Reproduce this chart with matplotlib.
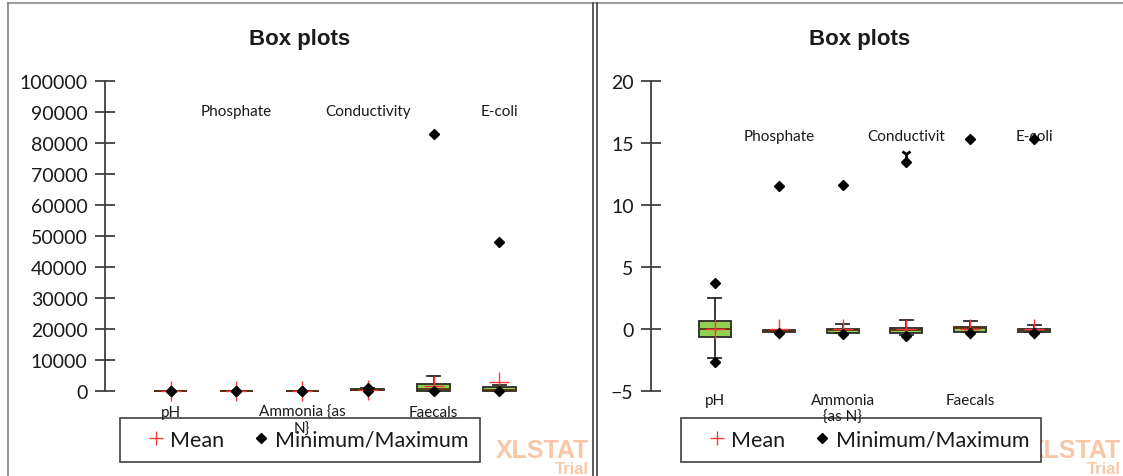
import matplotlib
matplotlib.use("Agg")
import matplotlib.pyplot as plt
from matplotlib.lines import Line2D
from matplotlib.patches import Rectangle
import matplotlib.transforms as mtransforms

plt.rcParams['font.family'] = ['Lato', 'DejaVu Sans']

# ---- data -------------------------------------------------------------
variables = ["pH", "Phosphate", "Ammonia {as N}", "Conductivity", "Faecals", "E-coli"]
labels_left = ["pH", "Phosphate", "Ammonia {as\nN}", "Conductivity", "Faecals", "E-coli"]
labels_right = ["pH", "Phosphate", "Ammonia\n{as N}", "Conductivit", "Faecals", "E-coli"]

# raw values (left chart)
raw_min = [6.1, 0.05, 0.02, 150, 0, 0]
raw_whislo = [6.3, 0.1, 0.05, 200, 0, 0]
raw_q1 = [7.0, 0.2, 0.1, 300, 100, 100]
raw_med = [7.4, 0.3, 0.2, 400, 700, 400]
raw_q3 = [7.8, 0.5, 0.4, 600, 2260, 1200]
raw_whishi = [8.6, 0.9, 0.8, 900, 4900, 2000]
raw_max = [8.9, 10.0, 8.0, 1100, 83000, 48000]
raw_mean = [7.4, 0.4, 0.3, 450, 1700, 2900]

# standardized values (right chart)
std_min = [-2.63, -0.30, -0.40, -0.54, -0.30, -0.30]
std_whislo = [-2.36, -0.28, -0.35, -0.45, -0.28, -0.28]
std_q1 = [-0.67, -0.25, -0.30, -0.30, -0.27, -0.27]
std_med = [0.0, -0.15, -0.05, -0.05, 0.05, -0.10]
std_q3 = [0.67, -0.10, 0.0, 0.08, 0.13, 0.0]
std_whishi = [2.47, -0.05, 0.40, 0.72, 0.67, 0.35]
std_max = [3.69, 11.5, 11.6, 13.5, 15.3, 15.3]
std_mean = [0.0, 0.0, 0.0, 0.0, 0.0, 0.0]
cond_extra = 14.1   # extra mark above conductivity max

left_ticks = list(range(0, 100001, 10000))
right_ticks = [-5, 0, 5, 10, 15, 20]

W, H = 1123, 477
fig = plt.figure(figsize=(W / 100, H / 100), dpi=100)

# panel frames
fig.add_artist(Line2D([8 / W, 1], [1 - 4 / H, 1 - 4 / H], color="#a0a0a0", lw=1.5))
fig.add_artist(Line2D([8 / W, 8 / W], [0, 1 - 4 / H], color="#808080", lw=1.2))
fig.add_artist(Line2D([593 / W, 593 / W], [0, 1 - 4 / H], color="#404040", lw=1.2))
fig.add_artist(Line2D([597 / W, 597 / W], [0, 1 - 4 / H], color="#404040", lw=1.2))

# watermark (drawn first so the legend boxes sit over it)
for rx in (589, 1121):
    fig.text(rx / W, 1 - 451 / H, "XLSTAT", ha="right", va="center", fontsize=18,
             fontweight="bold", family="Liberation Sans", color="#f8c7a8", zorder=0)
    fig.text(rx / W, 1 - 470 / H, "Trial", ha="right", va="center", fontsize=12,
             fontweight="bold", family="Liberation Sans", color="#f8c7a8", zorder=0)


def draw_panel(ax, mins, wlo, q1, med, q3, whi, maxs, means, labels, ylim, ticks,
               top_y, bot_y):
    pos = list(range(1, len(variables) + 1))
    stats = []
    for i in range(len(variables)):
        stats.append(dict(med=med[i], q1=q1[i], q3=q3[i], whislo=wlo[i],
                          whishi=whi[i], mean=means[i], fliers=[]))
    ax.bxp(stats, positions=pos, widths=0.5, capwidths=0.2, patch_artist=True,
           showmeans=True, showfliers=False,
           boxprops=dict(facecolor="#92d050", edgecolor="#2a2a2a", lw=1.3),
           whiskerprops=dict(color="#2a2a2a", lw=1.3),
           capprops=dict(color="#2a2a2a", lw=1.3),
           medianprops=dict(color="#5a3010", lw=1.3),
           meanprops=dict(marker="+", markeredgecolor="#ff3838", markersize=15,
                          markeredgewidth=1.0))
    ax.plot(pos, mins, ls="none", marker="D", color="black", markersize=5.5, clip_on=False, zorder=5)
    ax.plot(pos, maxs, ls="none", marker="D", color="black", markersize=5.5, clip_on=False, zorder=5)
    for a in ax.get_children():
        try:
            a.set_clip_on(False)
        except Exception:
            pass
    ax.set_xlim(0, 7)
    ax.set_ylim(*ylim)
    ax.set_yticks(ticks)
    ax.set_xticks([])
    for s in ["top", "right", "bottom"]:
        ax.spines[s].set_visible(False)
    ax.spines["left"].set_color("#404040")
    ax.spines["left"].set_linewidth(1.3)
    ax.tick_params(axis="y", direction="inout", length=14, width=1.3, color="#404040",
                   labelsize=14, pad=5.5, labelcolor="#1a1a1a")
    ax.set_facecolor("none")
    ax.set_zorder(5)   # category labels sit over the legend box, as in the original
    tr = mtransforms.blended_transform_factory(ax.transData, ax.transAxes)
    for i, lab in enumerate(labels):
        if i % 2 == 0:
            ax.text(pos[i], bot_y, lab, transform=tr, ha="center", va="top",
                    fontsize=11, color="#1a1a1a", linespacing=1.25)
        else:
            ax.text(pos[i], top_y, lab, transform=tr, ha="center", va="center",
                    fontsize=11, color="#1a1a1a")


ax1 = fig.add_axes([105 / W, 85 / H, 460 / W, 310 / H])
draw_panel(ax1, raw_min, raw_whislo, raw_q1, raw_med, raw_q3, raw_whishi, raw_max,
           raw_mean, labels_left, (0, 100000), left_ticks, 0.903, -0.045)

ax2 = fig.add_axes([651 / W, 85 / H, 447 / W, 310 / H])
draw_panel(ax2, std_min, std_whislo, std_q1, std_med, std_q3, std_whishi, std_max,
           std_mean, labels_right, (-5, 20), right_ticks, 0.823, -0.008)
ax2.plot([4], [cond_extra], ls="none", marker="1", color="black", markersize=8,
         markeredgewidth=2, clip_on=False)

# titles
for cx in (300, 860):
    fig.text(cx / W, 1 - 39 / H, "Box plots", ha="center", va="center", fontsize=16,
             fontweight="bold", family="Liberation Sans", color="#1a1a1a")

# legends
handles = [Line2D([], [], ls="none", marker="+", markeredgecolor="#ff3838", markersize=10,
                  markeredgewidth=1.0),
           Line2D([], [], ls="none", marker="D", color="black", markersize=5)]
for x0 in (120, 681):
    fig.add_artist(Rectangle((x0 / W, 1 - 463 / H), 360 / W, 44 / H, facecolor="white",
                             edgecolor="#404040", lw=1.2, transform=fig.transFigure,
                             zorder=3))
    leg = fig.legend(handles, ["Mean", "Minimum/Maximum"], loc="center",
                     bbox_to_anchor=((x0 + 189) / W, 1 - 441 / H), ncol=2, frameon=False,
                     fontsize=15.5, handlelength=0.6, handletextpad=0.35, columnspacing=1.4,
                     labelcolor="#1a1a1a")
    leg.set_zorder(4)

fig.savefig("out.png", dpi=100)
